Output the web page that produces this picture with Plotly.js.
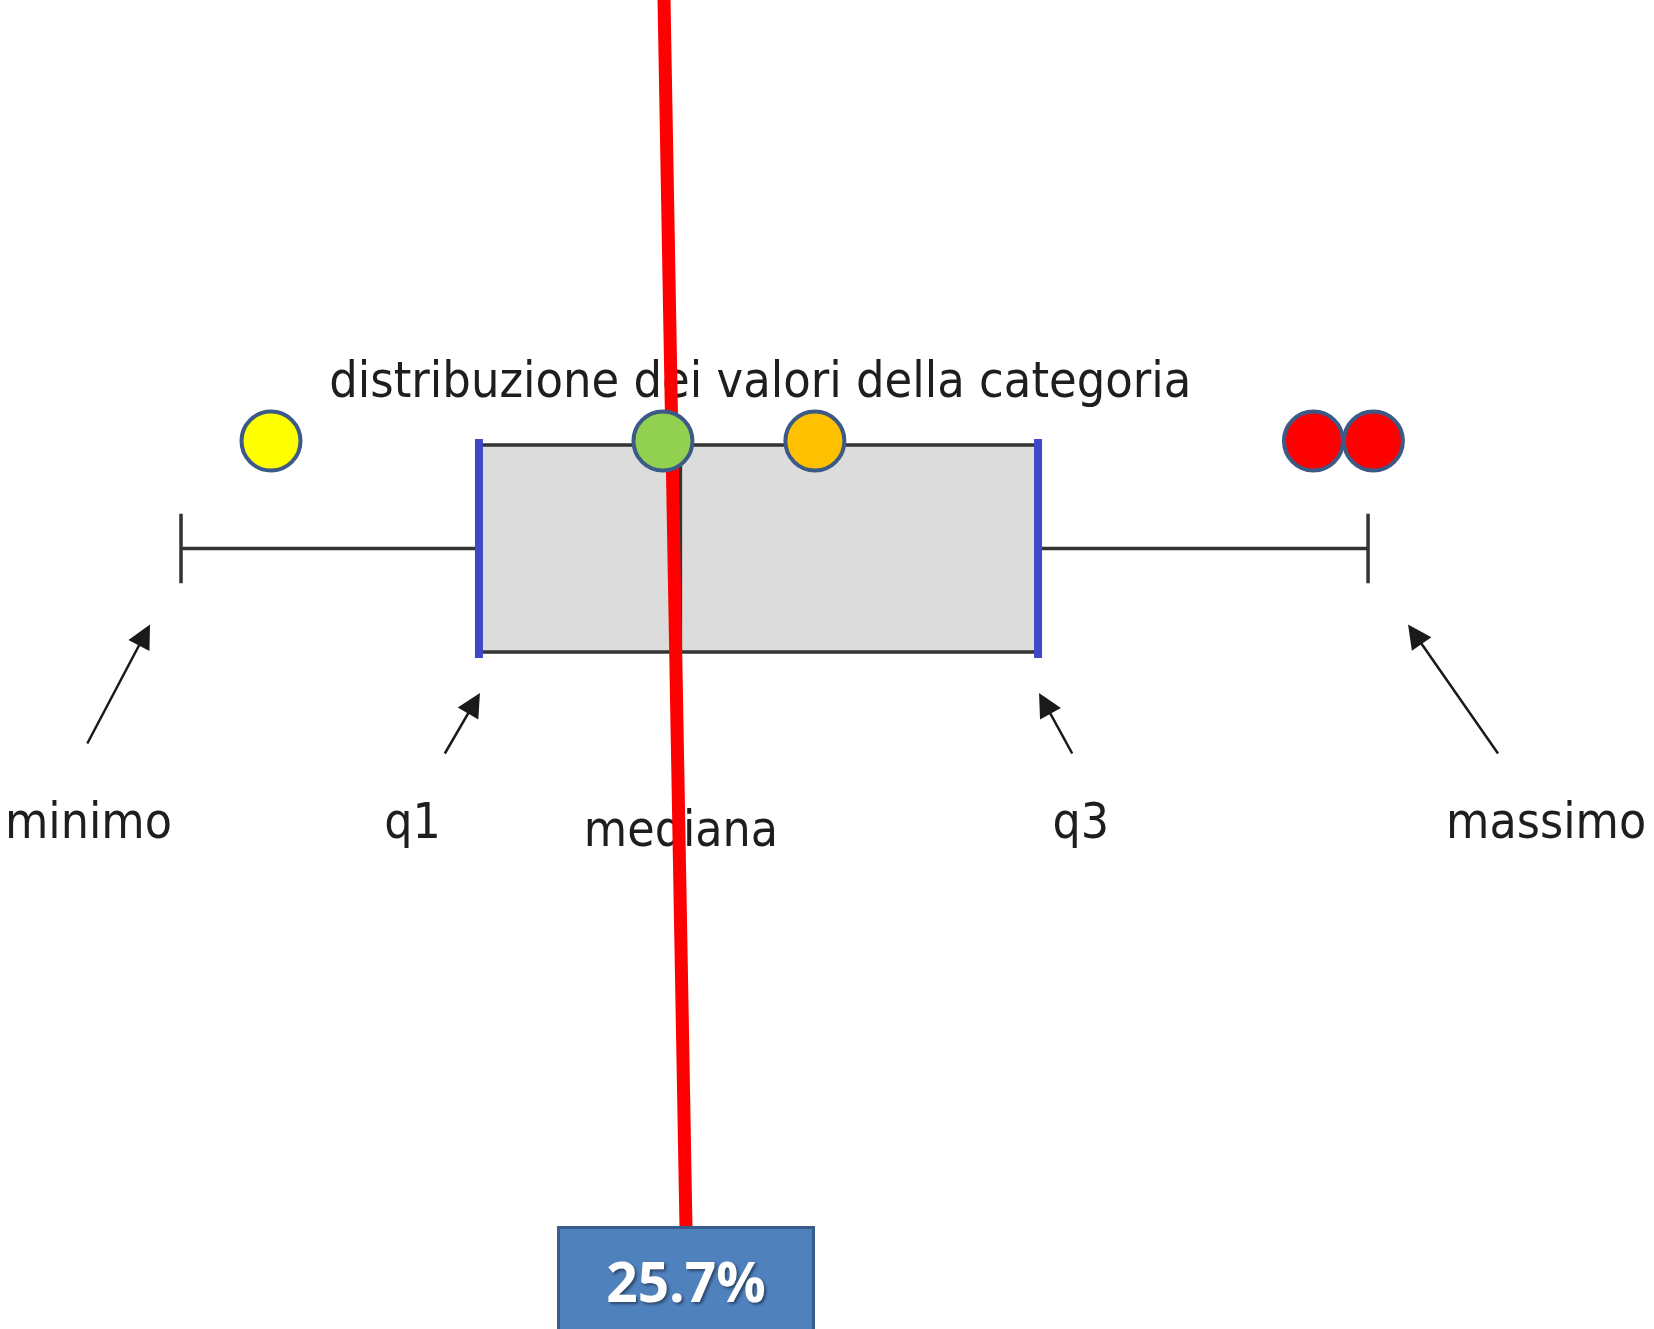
<!DOCTYPE html>
<html>
<head>
<meta charset="utf-8">
<script src="https://cdn.plot.ly/plotly-3.0.1.min.js"></script>
<style>html,body{margin:0;padding:0;background:#fff;}#chart{width:1654px;height:1329px;}</style>
</head>
<body>
<div id="chart"></div>
<script>
// ---- data (arbitrary value units) ----
const statNames = ['minimo', 'q1', 'mediana', 'q3', 'massimo'];
const statValues = [0, 25.1, 42.07, 72.2, 100];
const pointValues = [7.58, 40.6, 53.4, 95.4, 100.45];
const pointColors = ['#ffff00', '#92d050', '#ffc000', '#ff0000', '#ff0000'];
const titleText = 'distribuzione dei valori della categoria';
const pointerValues = [40.69, 42.54];
const labelValue = 25.7;

// ---- layout constants (pixel rows of the drawing) ----
const W = 1654, H = 1329;
const X_RANGE = [-15.25, 124.09];
const ROW_BOX = 548.5, BOX_H = 207, ROW_PTS = 441, ROW_TITLE = 384;
const ROW_LABEL = 826, POINTER_TOP = 0, POINTER_BOTTOM = 1227, ROW_VALUE = 1280;
const FONT = '"DejaVu Sans Condensed", "DejaVu Sans", sans-serif';

const [vMin, vQ1, vMed, vQ3, vMax] = statValues;

const traces = [];
// box
traces.push({
  type: 'box', orientation: 'h', y: [ROW_BOX],
  q1: [vQ1], median: [vMed], q3: [vQ3], lowerfence: [vMin], upperfence: [vMax],
  width: BOX_H, whiskerwidth: 0.335, boxpoints: false,
  fillcolor: '#dcdcdc', line: {color: '#333333', width: 3.5},
  hoverinfo: 'skip', showlegend: false
});
// blue box edges
[vQ1, vQ3].forEach(v => traces.push({
  type: 'scatter', mode: 'lines', x: [v, v], y: [ROW_BOX - BOX_H / 2 - 6, ROW_BOX + BOX_H / 2 + 6],
  line: {color: '#4048c8', width: 8}, hoverinfo: 'skip', showlegend: false
}));
// title text
traces.push({
  type: 'scatter', mode: 'text', x: [(vMin + vMax) / 2 - 1.2], y: [ROW_TITLE],
  text: [titleText], textposition: 'middle center',
  textfont: {family: FONT, size: 50, color: '#1e1e1e'},
  hoverinfo: 'skip', showlegend: false
});
// stat labels
const labelShift = [-7.8, -5.6, 0.05, 3.6, 15.0];
traces.push({
  type: 'scatter', mode: 'text',
  x: statValues.map((v, i) => v + labelShift[i]),
  y: statNames.map((n, i) => ROW_LABEL + (i === 2 ? 8 : 0)),
  text: statNames, textposition: 'middle center',
  textfont: {family: FONT, size: 49.5, color: '#1e1e1e'},
  hoverinfo: 'skip', showlegend: false
});
// red pointer line
traces.push({
  type: 'scatter', mode: 'lines', x: pointerValues, y: [POINTER_TOP, POINTER_BOTTOM],
  line: {color: '#ff0000', width: 13}, hoverinfo: 'skip', showlegend: false
});
// points
traces.push({
  type: 'scatter', mode: 'markers', x: pointValues, y: pointValues.map(() => ROW_PTS),
  marker: {size: 59, color: pointColors, line: {color: '#3b5a85', width: 4}},
  cliponaxis: false, hoverinfo: 'skip', showlegend: false
});

// arrows: head at stat value (shifted in pixels), tail offset in pixels
const arrowSpec = [
  {y: 624.5, xs: -31, ax: -63.5, ay: 120.5},
  {y: 693, xs: 1, ax: -36, ay: 62},
  {y: 704, xs: 0, ax: 0, ay: 6},
  {y: 693, xs: 1, ax: 34, ay: 62},
  {y: 624.5, xs: 40, ax: 91, ay: 130.5}
];
const annotations = statValues.map((v, i) => ({
  x: v, y: arrowSpec[i].y, xref: 'x', yref: 'y', xshift: arrowSpec[i].xs,
  text: '', showarrow: true, arrowhead: 2, arrowsize: 1.9, arrowwidth: 2.5,
  arrowcolor: '#1a1a1a', ax: arrowSpec[i].ax, ay: arrowSpec[i].ay, standoff: 0
}));
annotations.push({
  x: pointerValues[1], y: ROW_VALUE, xref: 'x', yref: 'y', showarrow: false,
  text: '<b>' + labelValue.toFixed(1) + '%</b>',
  font: {family: '"Open Sans", "Liberation Sans", sans-serif', size: 55, color: '#ffffff',
         shadow: '2px 2px 3px rgba(0,0,0,0.45)'},
  bgcolor: '#4f81bd', bordercolor: '#385d8a', borderwidth: 3, borderpad: 0,
  width: 252, height: 103, align: 'center', valign: 'middle'
});

const layout = {
  width: W, height: H, margin: {l: 0, r: 0, t: 0, b: 0},
  paper_bgcolor: '#ffffff', plot_bgcolor: '#ffffff', showlegend: false,
  xaxis: {range: X_RANGE, visible: false, fixedrange: true},
  yaxis: {range: [H, 0], visible: false, fixedrange: true},
  annotations: annotations
};
Plotly.newPlot('chart', traces, layout, {staticPlot: true, displayModeBar: false});
</script>
</body>
</html>
